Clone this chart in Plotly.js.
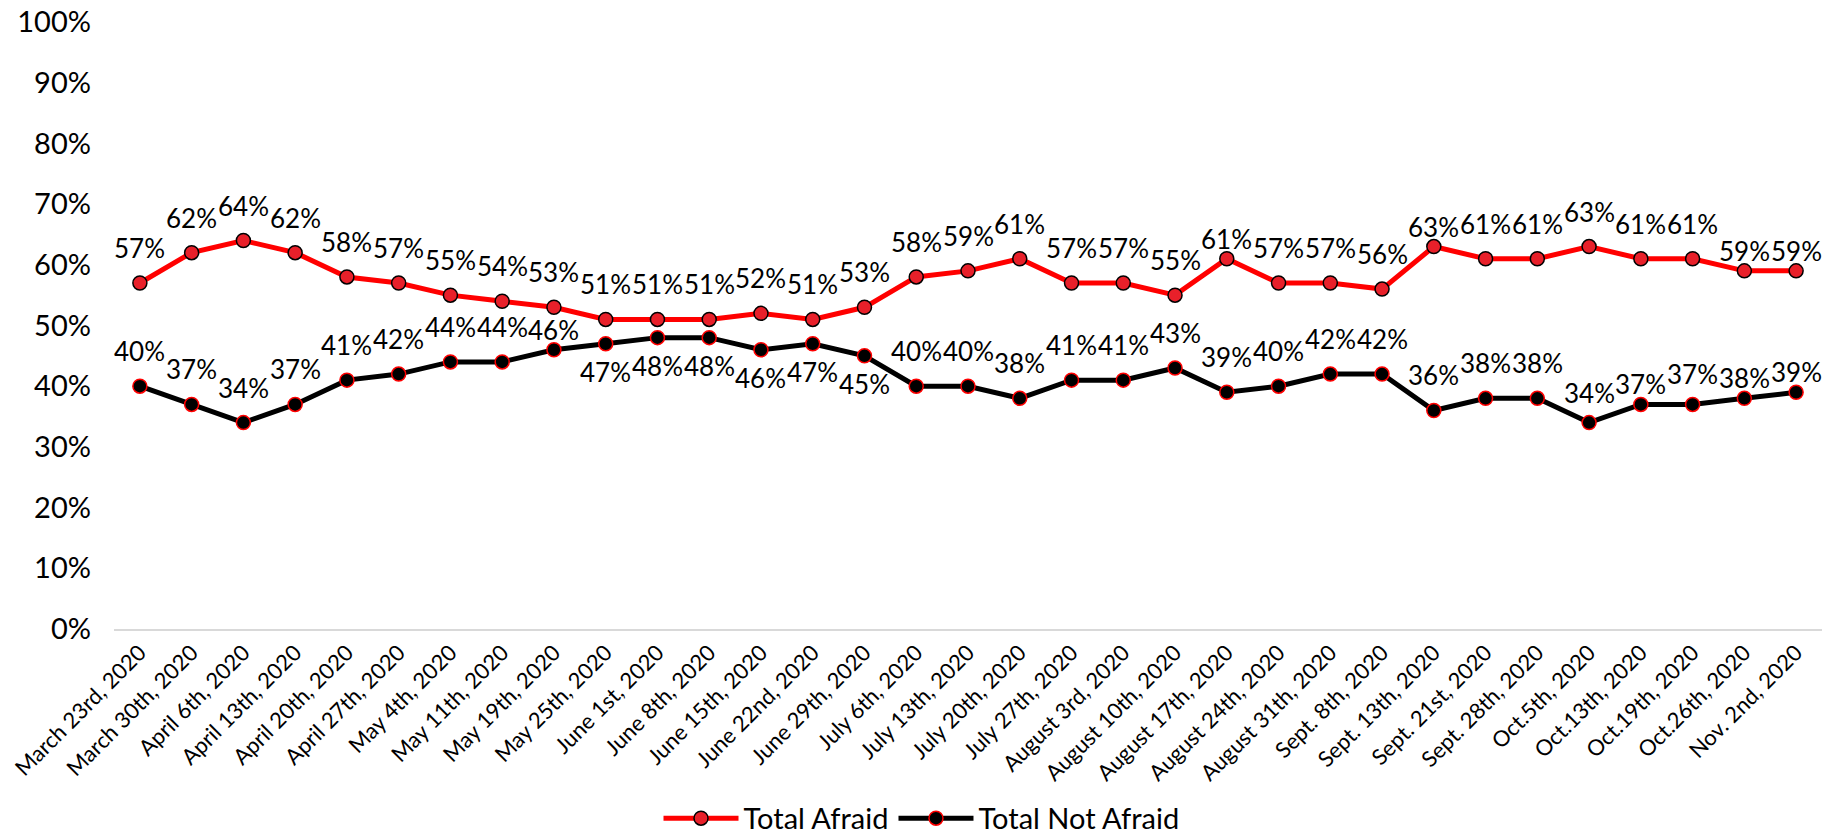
<!DOCTYPE html>
<html>
<head>
<meta charset="utf-8">
<script src="https://cdn.plot.ly/plotly-3.0.1.min.js"></script>
<style>html,body{margin:0;padding:0;background:#fff;}#chart{width:1843px;height:835px;}</style>
</head>
<body>
<div id="chart"></div>
<script>
const categories = ["March 23rd, 2020","March 30th, 2020","April 6th, 2020","April 13th, 2020","April 20th, 2020","April 27th, 2020","May 4th, 2020","May 11th, 2020","May 19th, 2020","May 25th, 2020","June 1st, 2020","June 8th, 2020","June 15th, 2020","June 22nd, 2020","June 29th, 2020","July 6th, 2020","July 13th, 2020","July 20th, 2020","July 27th, 2020","August 3rd, 2020","August 10th, 2020","August 17th, 2020","August 24th, 2020","August 31th, 2020","Sept. 8th, 2020","Sept. 13th, 2020","Sept. 21st, 2020","Sept. 28th, 2020","Oct.5th, 2020","Oct.13th, 2020","Oct.19th, 2020","Oct.26th, 2020","Nov. 2nd, 2020"];
const totalAfraid = [57,62,64,62,58,57,55,54,53,51,51,51,52,51,53,58,59,61,57,57,55,61,57,57,56,63,61,61,63,61,61,59,59];
const totalNotAfraid = [40,37,34,37,41,42,44,44,46,47,48,48,46,47,45,40,40,38,41,41,43,39,40,42,42,36,38,38,34,37,37,38,39];
const seriesNames = ["Total Afraid","Total Not Afraid"];

// label placement (styling only): which labels sit close above, mid above, or below the point
const afraidLabelsClose = ["August 17th, 2020","Sept. 13th, 2020","Oct.26th, 2020","Nov. 2nd, 2020"];
const notAfraidLabelsClose = ["May 19th, 2020","Oct.13th, 2020","Oct.26th, 2020","Nov. 2nd, 2020"];
const notAfraidLabelsMid = ["Oct.5th, 2020","Oct.19th, 2020"];
const notAfraidLabelsBelow = ["May 25th, 2020","June 1st, 2020","June 8th, 2020","June 15th, 2020","June 22nd, 2020","June 29th, 2020"];

const FONT = "Lato, 'Open Sans', sans-serif";
const LABEL_FAR = 35, LABEL_MID = 30, LABEL_CLOSE = 20, LABEL_BELOW = -28;

function shiftFor(cat, close, mid, below) {
  if (below && below.includes(cat)) return LABEL_BELOW;
  if (close && close.includes(cat)) return LABEL_CLOSE;
  if (mid && mid.includes(cat)) return LABEL_MID;
  return LABEL_FAR;
}

const traces = [
  {
    x: categories, y: totalAfraid.map(v => v / 100), name: seriesNames[0],
    type: "scatter", mode: "lines+markers",
    line: {color: "#FF0000", width: 5},
    marker: {size: 14, color: "#E8202A", line: {color: "#000", width: 1.5}},
    cliponaxis: false, hoverinfo: "skip"
  },
  {
    x: categories, y: totalNotAfraid.map(v => v / 100), name: seriesNames[1],
    type: "scatter", mode: "lines+markers",
    line: {color: "#000000", width: 5},
    marker: {size: 14, color: "#000", line: {color: "#FF0000", width: 1.5}},
    cliponaxis: false, hoverinfo: "skip"
  }
];

const annotations = [];
categories.forEach((c, i) => {
  annotations.push({
    x: c, y: totalAfraid[i] / 100, xref: "x", yref: "y",
    text: totalAfraid[i] + "%", showarrow: false,
    xanchor: "center", yanchor: "middle",
    yshift: shiftFor(c, afraidLabelsClose, null, null),
    font: {family: FONT, size: 26, color: "#000"}
  });
  annotations.push({
    x: c, y: totalNotAfraid[i] / 100, xref: "x", yref: "y",
    text: totalNotAfraid[i] + "%", showarrow: false,
    xanchor: "center", yanchor: "middle",
    yshift: shiftFor(c, notAfraidLabelsClose, notAfraidLabelsMid, notAfraidLabelsBelow),
    font: {family: FONT, size: 26, color: "#000"}
  });
});

const layout = {
  width: 1843, height: 835,
  margin: {l: 114, r: 21, t: 22, b: 206},
  paper_bgcolor: "#fff", plot_bgcolor: "#fff",
  font: {family: FONT, color: "#000"},
  showlegend: true,
  annotations: annotations,
  legend: {
    orientation: "h", xref: "container", x: 0.5, xanchor: "center",
    yref: "container", y: 0.02, yanchor: "middle",
    font: {family: FONT, size: 29, color: "#000"},
    itemwidth: 75, traceorder: "normal"
  },
  xaxis: {
    type: "category", tickangle: -45, range: [-0.5, categories.length - 0.5],
    tickfont: {family: FONT, size: 22, color: "#000"},
    showgrid: false, zeroline: false,
    showline: true, linecolor: "#D9D9D9", linewidth: 2,
    ticks: "", automargin: false
  },
  yaxis: {
    range: [0, 1], dtick: 0.1, tick0: 0, tickformat: ".0%",
    tickfont: {family: FONT, size: 29, color: "#000"},
    showgrid: false, zeroline: false, showline: false,
    ticks: "", ticklabelstandoff: 22, automargin: false
  }
};

Plotly.newPlot("chart", traces, layout, {displayModeBar: false, staticPlot: true});
</script>
</body>
</html>
